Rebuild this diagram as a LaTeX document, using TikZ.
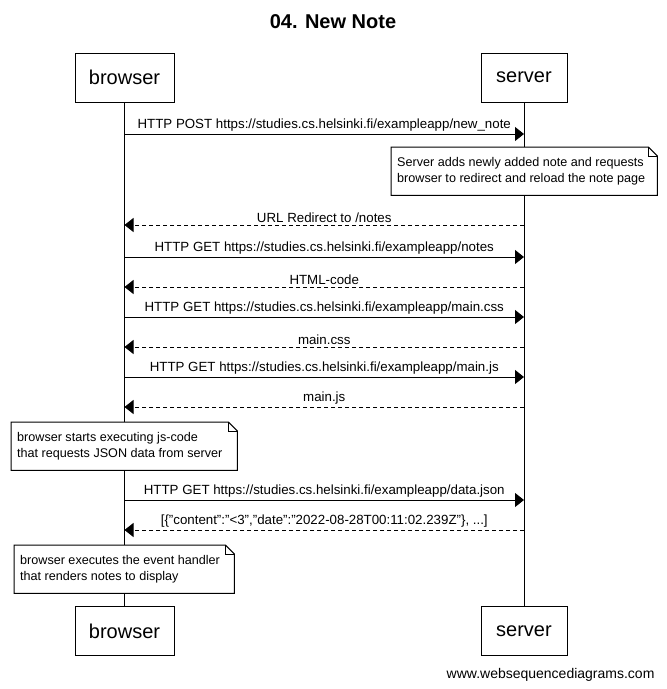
\documentclass[tikz,border=0pt]{standalone}
\usepackage{fontspec}
\setmainfont{Liberation Sans}
\usetikzlibrary{arrows.meta}
\tikzset{>/.tip={Triangle[length=9pt,width=14pt]},
  actor/.style={draw, line width=1pt, minimum height=49pt, font=\fontsize{20}{24}\selectfont},
  msg/.style={->, line width=1pt},
  reply/.style={msg, dash pattern=on 4pt off 3pt},
  lbl/.style={above, inner sep=2pt, font=\fontsize{13.3}{15}\selectfont},
  notebox/.style={fill=white, minimum height=48pt, inner xsep=6pt, align=flush left, font=\fontsize{12.6}{16}\selectfont}}

\begin{document}
\begin{tikzpicture}[x=1pt, y=-1pt]
\useasboundingbox (0,0) rectangle (667,689);
\node[font=\bfseries\fontsize{20}{24}\selectfont] (title) at (333,22) {04. New Note};
\node[actor, minimum width=99pt] (bTop) at (124.5,77.5) {browser};
\node[actor, minimum width=86pt] (sTop) at (524,77.5) {server};
\node[actor, minimum width=99pt] (bBot) at (124.5,631) {browser};
\node[actor, minimum width=86pt] (sBot) at (524,631) {server};
\draw[line width=1pt] (bTop) -- (bBot);
\draw[line width=1pt] (sTop) -- (sBot);
\foreach \y [count=\i] in {134,225,257,287,317,347,377,407,500,530}
{
  \coordinate (b\i) at (124.5,\y);
  \coordinate (s\i) at (524,\y);
}
\node[notebox, text width=254pt, anchor=north west] (n1) at (391,147) {Server adds newly added note and requests\\browser to redirect and reload the note page};
\node[notebox, text width=214pt, anchor=north west] (n2) at (11,422) {browser starts executing js-code\\that requests JSON data from server};
\node[notebox, text width=208pt, anchor=north west] (n3) at (14,545) {browser executes the event handler\\that renders notes to display};
\foreach \n in {n1,n2,n3}
{
  \draw[line width=1pt] (\n.south west) -- (\n.south east) -- ([yshift=-9pt]\n.north east) -- ([xshift=-9pt]\n.north east) -- (\n.north west) -- cycle;
  \draw[line width=1pt] ([xshift=-9pt]\n.north east) |- ([yshift=-9pt]\n.north east);
}
\draw[msg] (b1) -- node[lbl] {HTTP POST https://studies.cs.helsinki.fi/exampleapp/new\_note} (s1);
\draw[reply] (s2) -- node[lbl] {URL Redirect to /notes} (b2);
\draw[msg] (b3) -- node[lbl] {HTTP GET https://studies.cs.helsinki.fi/exampleapp/notes} (s3);
\draw[reply] (s4) -- node[lbl] {HTML-code} (b4);
\draw[msg] (b5) -- node[lbl] {HTTP GET https://studies.cs.helsinki.fi/exampleapp/main.css} (s5);
\draw[reply] (s6) -- node[lbl] {main.css} (b6);
\draw[msg] (b7) -- node[lbl] {HTTP GET https://studies.cs.helsinki.fi/exampleapp/main.js} (s7);
\draw[reply] (s8) -- node[lbl] {main.js} (b8);
\draw[msg] (b9) -- node[lbl] {HTTP GET https://studies.cs.helsinki.fi/exampleapp/data.json} (s9);
\draw[reply] (s10) -- node[lbl] {[\{"content":"<3","date":"2022-08-28T00:11:02.239Z"\}, ...]} (b10);
\node[anchor=east, font=\fontsize{14}{16}\selectfont] (wsd) at (658,675) {www.websequencediagrams.com};
\end{tikzpicture}
\end{document}
